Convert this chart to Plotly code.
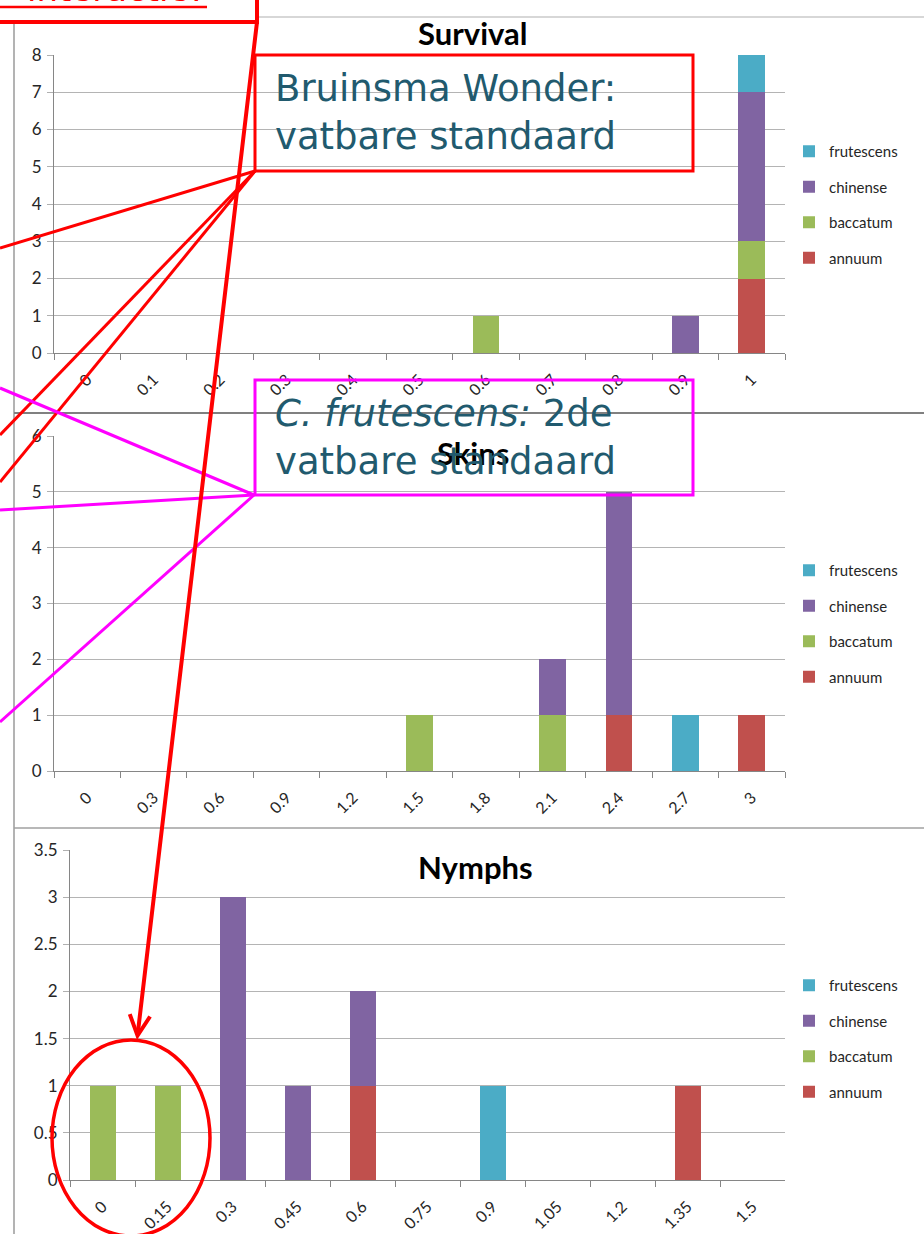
import plotly.graph_objects as go

W, H = 924, 1234

species = ["annuum", "baccatum", "chinense", "frutescens"]
colors = {"annuum": "#C0504D", "baccatum": "#9BBB59", "chinense": "#8064A2", "frutescens": "#4BACC6"}
legend_rank = {"frutescens": 1, "chinense": 2, "baccatum": 3, "annuum": 4}

survival_cats = ["0", "0.1", "0.2", "0.3", "0.4", "0.5", "0.6", "0.7", "0.8", "0.9", "1"]
survival_annuum = [0, 0, 0, 0, 0, 0, 0, 0, 0, 0, 2]
survival_baccatum = [0, 0, 0, 0, 0, 0, 1, 0, 0, 0, 1]
survival_chinense = [0, 0, 0, 0, 0, 0, 0, 0, 0, 1, 4]
survival_frutescens = [0, 0, 0, 0, 0, 0, 0, 0, 0, 0, 1]

skins_cats = ["0", "0.3", "0.6", "0.9", "1.2", "1.5", "1.8", "2.1", "2.4", "2.7", "3"]
skins_annuum = [0, 0, 0, 0, 0, 0, 0, 0, 1, 0, 1]
skins_baccatum = [0, 0, 0, 0, 0, 1, 0, 1, 0, 0, 0]
skins_chinense = [0, 0, 0, 0, 0, 0, 0, 1, 4, 0, 0]
skins_frutescens = [0, 0, 0, 0, 0, 0, 0, 0, 0, 1, 0]

nymphs_cats = ["0", "0.15", "0.3", "0.45", "0.6", "0.75", "0.9", "1.05", "1.2", "1.35", "1.5"]
nymphs_annuum = [0, 0, 0, 0, 1, 0, 0, 0, 0, 1, 0]
nymphs_baccatum = [1, 1, 0, 0, 0, 0, 0, 0, 0, 0, 0]
nymphs_chinense = [0, 0, 3, 1, 1, 0, 0, 0, 0, 0, 0]
nymphs_frutescens = [0, 0, 0, 0, 0, 0, 1, 0, 0, 0, 0]

charts = [
    ("Survival", survival_cats, [survival_annuum, survival_baccatum, survival_chinense, survival_frutescens]),
    ("Skins", skins_cats, [skins_annuum, skins_baccatum, skins_chinense, skins_frutescens]),
    ("Nymphs", nymphs_cats, [nymphs_annuum, nymphs_baccatum, nymphs_chinense, nymphs_frutescens]),
]

def px(x):
    return x / W

def py(y):
    return 1 - y / H

fig = go.Figure()
legend_names = ["legend", "legend2", "legend3"]
for ci, (title, cats, vals) in enumerate(charts):
    suffix = "" if ci == 0 else str(ci + 1)
    for si, sp in enumerate(species):
        fig.add_trace(go.Bar(
            x=cats, y=vals[si], name=sp,
            marker=dict(color=colors[sp], line=dict(width=0)),
            xaxis="x" + suffix, yaxis="y" + suffix,
            legend=legend_names[ci], legendgroup=sp + suffix,
            legendrank=legend_rank[sp],
            hoverinfo="skip",
        ))

font_axis = "Lato, Open Sans, sans-serif"
areas = [
    dict(x0=54, x1=785, y0=353, y1=55, rng=[0, 8], dt=1),
    dict(x0=54, x1=785, y0=771, y1=436, rng=[0, 6], dt=1),
    dict(x0=70, x1=785, y0=1180, y1=850, rng=[0, 3.5], dt=0.5),
]
layout = dict(
    width=W, height=H, margin=dict(l=0, r=0, t=0, b=0, pad=0, autoexpand=False),
    paper_bgcolor="white", plot_bgcolor="rgba(0,0,0,0)",
    barmode="stack", bargap=0.6, showlegend=True,
    font=dict(family=font_axis, color="#262626"),
)
for ci, a in enumerate(areas):
    suffix = "" if ci == 0 else str(ci + 1)
    layout["xaxis" + suffix] = dict(
        domain=[px(a["x0"]), px(a["x1"])], anchor="y" + suffix, automargin=False,
        type="category", tickson="boundaries", ticks="outside", ticklen=6,
        tickcolor="#868686", showline=True, linecolor="#868686", linewidth=1,
        tickangle=-45, tickfont=dict(size=16, color="#262626"), ticklabelstandoff=10,
        showgrid=False, zeroline=False, fixedrange=True,
    )
    layout["yaxis" + suffix] = dict(
        domain=[py(a["y0"]), py(a["y1"])], anchor="x" + suffix, automargin=False,
        range=a["rng"], dtick=a["dt"], tick0=0, ticks="outside", ticklen=6,
        tickcolor="#B0B0B0", showline=True, linecolor="#868686", linewidth=1,
        showgrid=True, gridcolor="#B4B4B4", gridwidth=1, zeroline=False,
        tickfont=dict(size=17, color="#262626"), ticklabelstandoff=2, fixedrange=True,
    )

legend_tops = [135, 554, 969]
for ci, top in enumerate(legend_tops):
    layout[legend_names[ci]] = dict(
        x=px(789), y=py(top), xanchor="left", yanchor="top",
        traceorder="grouped", tracegroupgap=13,
        font=dict(size=15, color="#262626", family=font_axis),
        bgcolor="rgba(0,0,0,0)", itemclick=False, itemdoubleclick=False,
    )
fig.update_layout(**layout)

for txt, cx, cy in [("Survival", 472, 33), ("Skins", 473, 453), ("Nymphs", 475, 867)]:
    fig.add_annotation(text="<b>" + txt + "</b>", x=px(cx), y=py(cy), xref="paper", yref="paper",
                       xanchor="center", yanchor="middle", showarrow=False,
                       font=dict(size=31, color="#000000", family="Lato, Open Sans, sans-serif"))

shapes = []
gray = "#9A9A9A"
shapes.append(dict(type="line", xref="paper", yref="paper", x0=px(14), x1=px(14), y0=py(17), y1=py(1240), line=dict(color=gray, width=1.5), layer="below"))
shapes.append(dict(type="line", xref="paper", yref="paper", x0=px(14), x1=px(930), y0=py(17), y1=py(17), line=dict(color="#B0B0B0", width=1.2), layer="below"))
shapes.append(dict(type="line", xref="paper", yref="paper", x0=px(14), x1=px(930), y0=py(413), y1=py(413), line=dict(color="#808080", width=2), layer="below"))
shapes.append(dict(type="line", xref="paper", yref="paper", x0=px(14), x1=px(930), y0=py(828), y1=py(828), line=dict(color="#A0A0A0", width=1.5), layer="below"))

red = "#FF0000"
mag = "#FF00FF"
shapes.append(dict(type="rect", xref="paper", yref="paper", x0=px(-10), x1=px(257), y0=py(-40), y1=py(22), line=dict(color=red, width=4), fillcolor="white", layer="above"))
shapes.append(dict(type="line", xref="paper", yref="paper", x0=px(0), x1=px(207), y0=py(7), y1=py(7), line=dict(color=red, width=2.5), layer="above"))
shapes.append(dict(type="rect", xref="paper", yref="paper", x0=px(255), x1=px(693), y0=py(55), y1=py(171), line=dict(color=red, width=3), layer="above"))
for ex, ey in [(0, 248), (0, 435), (0, 482)]:
    shapes.append(dict(type="line", xref="paper", yref="paper", x0=px(255), y0=py(171), x1=px(ex), y1=py(ey), line=dict(color=red, width=3), layer="above"))
shapes.append(dict(type="rect", xref="paper", yref="paper", x0=px(255), x1=px(693), y0=py(380), y1=py(495), line=dict(color=mag, width=3), layer="above"))
for ex, ey in [(0, 388), (0, 510), (0, 722)]:
    shapes.append(dict(type="line", xref="paper", yref="paper", x0=px(254), y0=py(495), x1=px(ex), y1=py(ey), line=dict(color=mag, width=3), layer="above"))
shapes.append(dict(type="circle", xref="paper", yref="paper", x0=px(52), x1=px(210), y0=py(1040), y1=py(1236), line=dict(color=red, width=3.5), layer="above"))
fig.update_layout(shapes=shapes)

teal = "#215A6E"
fig.add_annotation(text="Bruinsma Wonder:<br>vatbare standaard", x=px(273), y=py(112), xref="paper", yref="paper",
                   xanchor="left", yanchor="middle", align="left", showarrow=False,
                   font=dict(size=37, color=teal, family="DejaVu Sans, Verdana, sans-serif"))
fig.add_annotation(text="<i>C. frutescens:</i> 2de<br>vatbare standaard", x=px(273), y=py(437), xref="paper", yref="paper",
                   xanchor="left", yanchor="middle", align="left", showarrow=False,
                   font=dict(size=37, color=teal, family="DejaVu Sans, Verdana, sans-serif"))
fig.add_annotation(text="interactie!", x=px(205), y=py(10.5), xref="paper", yref="paper",
                   xanchor="right", yanchor="bottom", showarrow=False,
                   font=dict(size=34, color=red, family="DejaVu Sans, sans-serif"))
fig.add_annotation(text="", x=px(137), y=py(1040), xref="paper", yref="paper",
                   ax=257 - 137, ay=22 - 1040, axref="pixel", ayref="pixel",
                   showarrow=True, arrowhead=5, arrowsize=1, arrowwidth=4, arrowcolor=red, standoff=0)

fig.write_html("out.html", config={"displayModeBar": False},
               post_script="document.body.style.margin='0';document.body.style.overflow='hidden';")
